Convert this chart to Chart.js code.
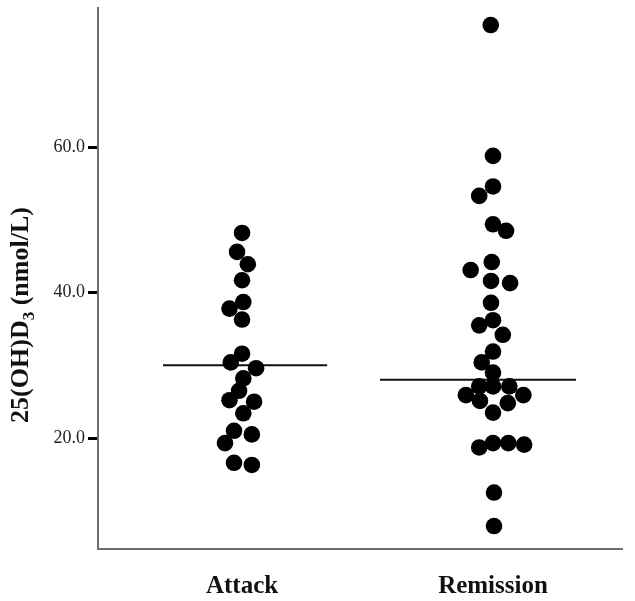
<!DOCTYPE html>
<html>
<head>
<meta charset="utf-8">
<script src="https://cdn.jsdelivr.net/npm/chart.js@4"></script>
<style>
  html, body { margin: 0; padding: 0; background: #fff; }
  #wrap { width: 635px; height: 601px; }
</style>
</head>
<body>
<div id="wrap"><canvas id="chart" width="635" height="601"></canvas></div>
<script>
// groups on the x axis
const categories = ["Attack", "Remission"];
const yTicks = [20, 40, 60];

// 25(OH)D3 values, with their horizontal spread
const attackValues = [48.2, 45.6, 43.9, 41.7, 37.8, 38.7, 36.3, 31.6, 30.4, 29.6,
  28.2, 26.5, 25.2, 25.0, 23.4, 21.0, 20.5, 19.3, 16.6, 16.3];
const attackOffsets = [0, -0.02, 0.023, 0, -0.05, 0.005, 0, 0, -0.045, 0.056,
  0.005, -0.012, -0.05, 0.048, 0.005, -0.032, 0.039, -0.068, -0.032, 0.039];

const remissionValues = [76.8, 58.8, 54.6, 53.3, 49.4, 48.5, 44.2, 43.1, 41.6, 41.3,
  38.6, 35.5, 36.2, 34.2, 31.9, 30.4, 29.0, 27.1, 27.1, 27.1,
  25.9, 25.9, 25.1, 24.8, 23.5, 18.7, 19.3, 19.3, 19.1, 12.5, 7.9];
const remissionOffsets = [-0.009, 0, 0, -0.055, 0, 0.052, -0.005, -0.089, -0.008, 0.068,
  -0.008, -0.055, 0, 0.039, 0, -0.045, 0, -0.055, 0, 0.065,
  -0.108, 0.121, -0.052, 0.059, 0, -0.055, 0, 0.061, 0.124, 0.004, 0.004];

// median lines: value and x extent
const medians = [30.0, 28.0];
const medianSpans = [[0.685, 1.339], [1.55, 2.331]];

const serif = "'Liberation Serif', 'Times New Roman', serif";

const toPoints = (values, offsets, group) =>
  values.map((v, i) => ({ x: group + offsets[i], y: v }));

const dotStyle = {
  pointRadius: 8.3,
  pointHoverRadius: 8.3,
  pointBackgroundColor: "#000",
  pointBorderWidth: 0,
  showLine: false,
};

const medianDatasets = medians.map((m, i) => ({
  type: "line",
  data: [{ x: medianSpans[i][0], y: m }, { x: medianSpans[i][1], y: m }],
  borderColor: "#111",
  borderWidth: 2,
  pointRadius: 0,
  fill: false,
}));

// y title with subscript 3
const yTitle = {
  id: "yTitle",
  afterDraw(chart) {
    const ctx = chart.ctx;
    const big = "bold 26px " + serif;
    const small = "bold 17px " + serif;
    ctx.save();
    ctx.font = big;
    const w1 = ctx.measureText("25(OH)D").width;
    const w3 = ctx.measureText(" (nmol/L)").width;
    ctx.font = small;
    const w2 = ctx.measureText("3").width;
    const total = w1 + w2 + w3;
    ctx.translate(28, 315);
    ctx.rotate(-Math.PI / 2);
    ctx.fillStyle = "#111";
    ctx.textBaseline = "alphabetic";
    let x = -total / 2;
    ctx.font = big;
    ctx.fillText("25(OH)D", x, 0);
    x += w1;
    ctx.font = small;
    ctx.fillText("3", x, 6);
    x += w2;
    ctx.font = big;
    ctx.fillText(" (nmol/L)", x, 0);
    ctx.restore();
  },
};

new Chart(document.getElementById("chart"), {
  type: "scatter",
  data: {
    datasets: [
      { ...dotStyle, data: toPoints(attackValues, attackOffsets, 1) },
      { ...dotStyle, data: toPoints(remissionValues, remissionOffsets, 2) },
      ...medianDatasets,
    ],
  },
  options: {
    responsive: false,
    animation: false,
    layout: { padding: { left: 0, right: 13, top: 8, bottom: 0 } },
    plugins: { legend: { display: false }, tooltip: { enabled: false } },
    scales: {
      x: {
        type: "linear",
        min: 0.426,
        max: 2.514,
        afterBuildTicks: (scale) => {
          scale.ticks = categories.map((c, i) => ({ value: i + 1 }));
        },
        afterFit: (scale) => {
          scale.height = 52;
          scale.paddingLeft = 0;
          scale.paddingRight = 0;
        },
        grid: { display: true, drawOnChartArea: false, drawTicks: false },
        border: { display: true, color: "#6e6e6e", width: 2 },
        ticks: {
          padding: 23,
          color: "#111",
          font: { family: serif, size: 25, weight: "bold" },
          callback: (v) => categories[v - 1],
        },
      },
      y: {
        min: 4.74,
        max: 79.1,
        afterBuildTicks: (scale) => {
          scale.ticks = yTicks.map((v) => ({ value: v }));
        },
        afterFit: (scale) => {
          scale.width = 98;
          scale.paddingTop = 0;
          scale.paddingBottom = 0;
        },
        grid: {
          drawOnChartArea: false,
          tickLength: 10,
          tickWidth: 3,
          tickColor: "#000",
        },
        border: { display: true, color: "#6e6e6e", width: 2 },
        ticks: {
          padding: 3,
          color: "#222",
          font: { family: serif, size: 18 },
          callback: (v) => v.toFixed(1),
        },
      },
    },
  },
  plugins: [yTitle],
});
</script>
</body>
</html>
